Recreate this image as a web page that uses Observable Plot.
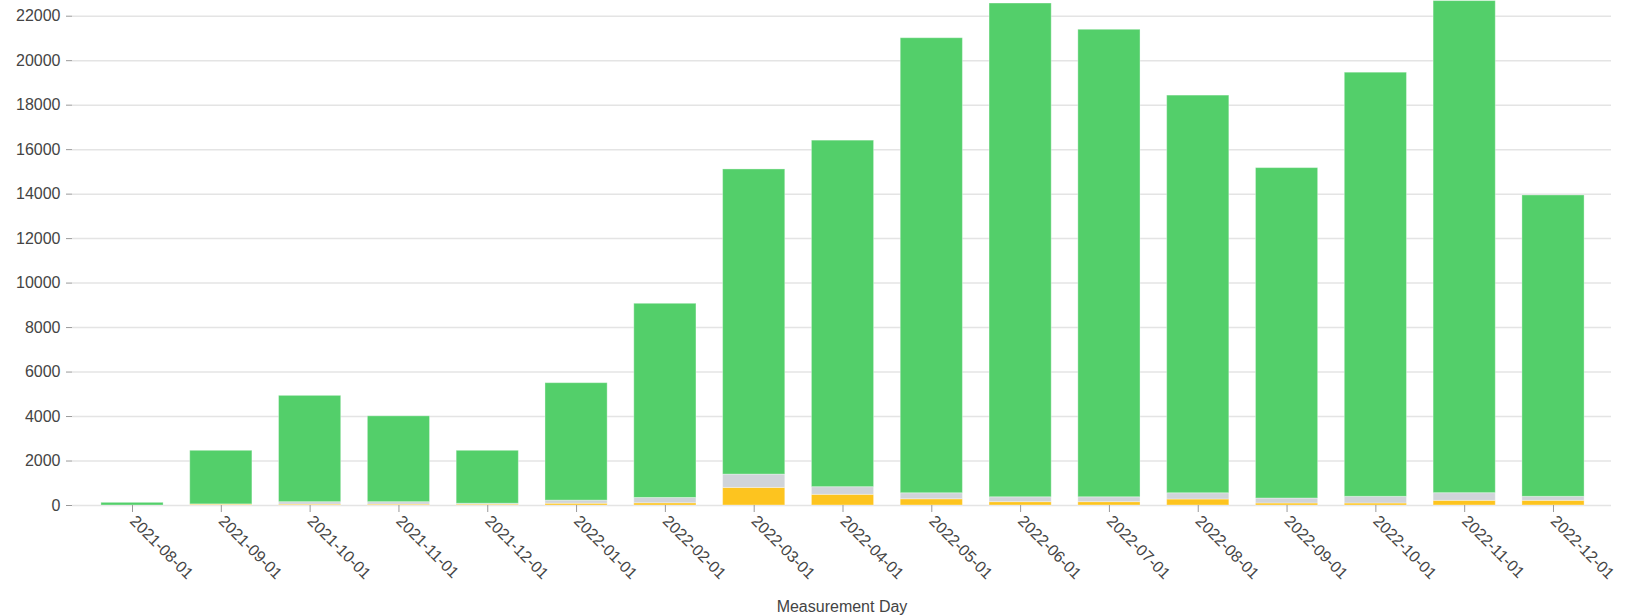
<!DOCTYPE html>
<html>
<head>
<meta charset="utf-8">
<script src="https://cdn.jsdelivr.net/npm/d3@7"></script>
<script src="https://cdn.jsdelivr.net/npm/@observablehq/plot@0.6"></script>
<style>
  html, body { margin: 0; padding: 0; background: #fff; }
  svg { display: block; }
</style>
</head>
<body>
<div id="chart"></div>
<script>
const months = [
  "2021-08-01", "2021-09-01", "2021-10-01", "2021-11-01", "2021-12-01",
  "2022-01-01", "2022-02-01", "2022-03-01", "2022-04-01", "2022-05-01",
  "2022-06-01", "2022-07-01", "2022-08-01", "2022-09-01", "2022-10-01",
  "2022-11-01", "2022-12-01"
];
const seriesNames = ["warning", "unknown", "ok"];
const seriesColors = ["#fdc41f", "#d0d4d9", "#53cf6a"];
const warningValues = [0, 40, 40, 40, 40, 80, 100, 790, 480, 280, 150, 150, 270, 90, 90, 210, 210];
const unknownValues = [0, 10, 110, 110, 40, 140, 240, 600, 345, 270, 220, 220, 280, 225, 300, 345, 180];
const okValues = [120, 2410, 4780, 3860, 2380, 5280, 8730, 13720, 15580, 20460, 22200, 21020, 17880, 14855, 19070, 22125, 13550];
const yTicks = [0, 2000, 4000, 6000, 8000, 10000, 12000, 14000, 16000, 18000, 20000, 22000];

const seriesValues = [warningValues, unknownValues, okValues];
const rows = seriesNames.flatMap((name, s) =>
  months.map((m, i) => ({month: m, series: name, value: seriesValues[s][i]}))
);

const chart = Plot.plot({
  width: 1631,
  height: 616,
  marginLeft: 72,
  marginRight: 20,
  marginTop: 0,
  marginBottom: 111,
  style: {fontFamily: "'Liberation Sans', Arial, sans-serif", fontSize: "16px", color: "#444", background: "#fff"},
  x: {domain: months, paddingInner: 0.3, paddingOuter: 0.15, insetLeft: 15.6, insetRight: 13.6, round: false},
  y: {domain: [0, 22706]},
  color: {domain: seriesNames, range: seriesColors},
  marks: [
    Plot.gridY(yTicks, {stroke: "#e4e4e4", strokeOpacity: 1, strokeWidth: 1.5}),
    Plot.barY(rows, {x: "month", y: "value", fill: "series", stroke: "#ffffff", strokeOpacity: 0.35, strokeWidth: 1}),
    Plot.axisY(yTicks, {tickSize: 6, tickPadding: 6, tickFormat: "d", stroke: "#999", fill: "#444", label: null}),
    Plot.axisX({tickSize: 7, tickPadding: 6, tickRotate: 45, stroke: "#999", fill: "#444", label: "Measurement Day", labelAnchor: "center", labelOffset: 106})
  ]
});
document.getElementById("chart").appendChild(chart);
</script>
</body>
</html>
